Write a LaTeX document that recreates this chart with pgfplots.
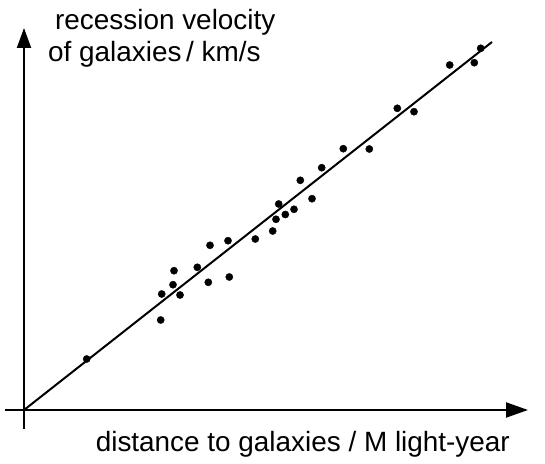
\documentclass[border=0pt]{standalone}
\usepackage{fontspec}
\setmainfont{Liberation Sans}
\usepackage{pgfplots}
\pgfplotsset{compat=1.18}
\usetikzlibrary{arrows.meta}

\begin{document}
\begin{tikzpicture}
\begin{axis}[
    x=1bp, y=1bp,
    xmin=-19, xmax=504,
    ymin=-19, ymax=382,
    axis lines=middle,
    ticks=none,
    clip=false,
    x axis line style={line width=2bp, -{Triangle[length=22bp,width=15bp]}},
    y axis line style={line width=2bp, -{Triangle[length=20bp,width=14bp]}},
]
% full picture frame, in pixel units relative to the origin
\path (axis cs:-24,-54) rectangle (axis cs:521,410);

\addplot[black, line width=2bp] coordinates {(0,0) (468,368)};

\addplot[only marks, mark=*, mark size=3.6bp, black] table {
X     Y
62.7  51
136.7 90
137.7 116
149   125.3
150   139.3
156   115
173.3 142.7
184.3 127.7
186   164.7
204   169.3
205.3 133
231.3 171
248.7 179
252   190.7
254.7 206
261.3 195.5
270   200.7
288   211.3
276.3 229.7
297.7 242.3
319.3 261.3
345.3 261
373.3 301.7
390   298.3
425.7 345
450.3 347.3
456.7 361.7
};

\node[anchor=base west, inner sep=0pt, font=\fontsize{28}{32}\selectfont] at (axis cs:31,380.7) {recession velocity};
\node[anchor=base west, inner sep=0pt, font=\fontsize{28}{32}\selectfont] at (axis cs:24,348.3) {of galaxies\,/ km/s};
\node[anchor=base east, inner sep=0pt, font=\fontsize{28}{32}\selectfont] at (axis cs:486,-42) {distance to galaxies / M light-year};
\end{axis}
\end{tikzpicture}
\end{document}
